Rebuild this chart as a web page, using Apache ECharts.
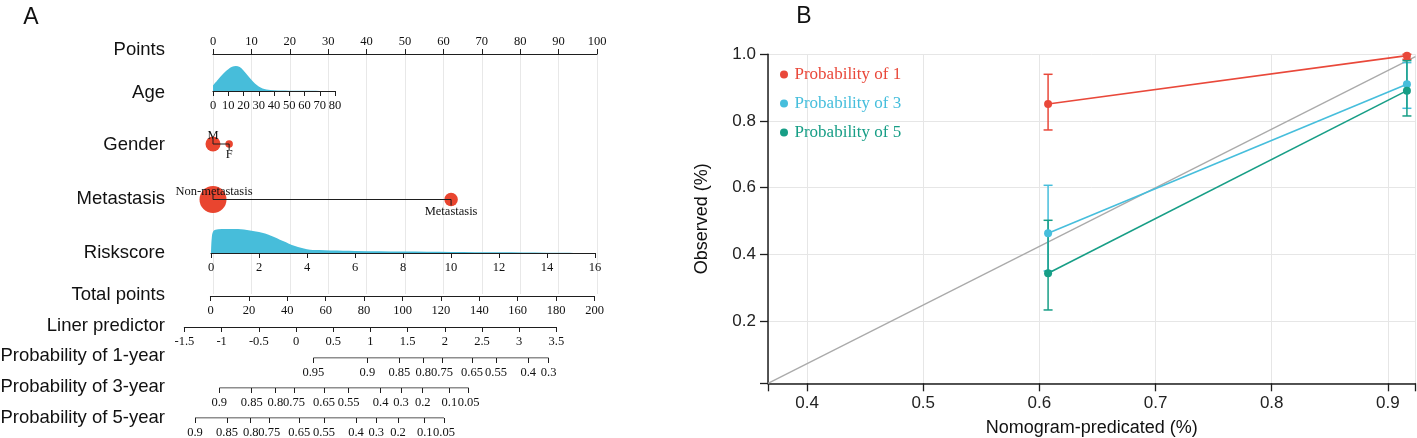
<!DOCTYPE html>
<html>
<head>
<meta charset="utf-8">
<script src="https://cdn.jsdelivr.net/npm/echarts@6/dist/echarts.min.js"></script>
<style>
  html, body { margin: 0; padding: 0; background: #fff; }
  #chart { width: 1417px; height: 438px; }
</style>
</head>
<body>
<div id="chart"></div>
<script>
// ---------- panel A: nomogram ----------
const rowLabels = ['Points', 'Age', 'Gender', 'Metastasis', 'Riskscore', 'Total points',
  'Liner predictor', 'Probability of 1-year', 'Probability of 3-year', 'Probability of 5-year'];

// age density (relative height)
const ageValues  = [0, 2.5, 5, 7.5, 10, 12.5, 15, 17.5, 20, 22.5, 25, 27.5, 30, 32.5, 35, 40, 50, 60, 70, 80];
const ageDensity = [0.22, 0.40, 0.58, 0.74, 0.87, 0.97, 1.0, 0.96, 0.82, 0.64, 0.46, 0.30, 0.18, 0.10, 0.06, 0.03, 0.014, 0.007, 0.003, 0];

const genderLevels = ['M', 'F'];
const genderPoints = [0, 4.2];
const metLevels = ['Non-metastasis', 'Metastasis'];
const metPoints = [0, 62];

const riskValues  = [0, 0.03, 0.1, 0.3, 0.6, 1.0, 1.5, 2, 2.5, 3, 3.5, 4, 4.5, 5, 6, 8, 10, 12, 14, 16];
const riskDensity = [0, 0.6, 0.92, 0.99, 1.0, 1.0, 0.96, 0.87, 0.72, 0.5, 0.29, 0.16, 0.12, 0.1, 0.085, 0.06, 0.045, 0.03, 0.015, 0.005];

// survival probability scales, placed in linear-predictor units
const prob1Labels = ['0.95', '0.9', '0.85', '0.8', '0.75', '0.65', '0.55', '0.4', '0.3'];
const prob1At     = [0.233, 0.959, 1.389, 1.711, 1.962, 2.366, 2.688, 3.122, 3.396];
const prob3Labels = ['0.9', '0.85', '0.8', '0.75', '0.65', '0.55', '0.4', '0.3', '0.2', '0.1', '0.05'];
const prob3At     = [-1.031, -0.595, -0.278, -0.027, 0.376, 0.708, 1.138, 1.411, 1.703, 2.061, 2.321];
const prob5Labels = ['0.9', '0.85', '0.8', '0.75', '0.65', '0.55', '0.4', '0.3', '0.2', '0.1', '0.05'];
const prob5At     = [-1.358, -0.927, -0.609, -0.359, 0.044, 0.376, 0.806, 1.079, 1.371, 1.730, 1.989];

// ---------- panel B: calibration ----------
const predicted = [0.6075, 0.9164];
const obs1 = [0.851, 0.996], lo1 = [0.773, 0.985], hi1 = [0.94, 1.0];
const obs3 = [0.463, 0.91],  lo3 = [0.35, 0.838],  hi3 = [0.607, 0.975];
const obs5 = [0.343, 0.891], lo5 = [0.233, 0.815], hi5 = [0.502, 0.981];
const diagX = [0.3664, 0.9237];
const diagY = [0.013, 0.993];
const xTicks = [0.4, 0.5, 0.6, 0.7, 0.8, 0.9];
const yTicks = [0.2, 0.4, 0.6, 0.8, 1.0];
const xRange = [0.3664, 0.9237];
const yRange = [0.013, 1.0];

const serif = 'Liberation Serif';
const sans = 'Liberation Sans';
const ink = '#1e1e1e';
const cyan = '#47BDDA';
const dotRed = '#E9452F';
const red = '#E9483A', blue = '#46BEDC', teal = '#179E86';

const rowY = [50, 93, 145, 199, 253, 295, 326, 356, 387, 418];

// grids: 0 points, 1 age, 2 gender, 3 metastasis, 4 riskscore, 5 total, 6 lp, 7-9 prob, 10 calibration
const grid = [
  {left: 213, width: 384, top: 54, height: 240},
  {left: 213, width: 122, top: 66, height: 25},
  {left: 213, width: 384, top: 134, height: 20},
  {left: 213, width: 384, top: 189.5, height: 20},
  {left: 211, width: 384, top: 229, height: 24},
  {left: 210.5, width: 384, top: 286, height: 10},
  {left: 184.4, width: 372, top: 317, height: 10},
  {left: 184.4, width: 372, top: 348, height: 10},
  {left: 184.4, width: 372, top: 378, height: 10},
  {left: 184.4, width: 372, top: 408, height: 10},
  {left: 768, width: 647.4, top: 54.3, height: 329}
].map(g => Object.assign({outerBoundsMode: 'none', containLabel: false}, g));

function scaleAxis(gridIndex, min, max, interval, extra) {
  return Object.assign({
    gridIndex, type: 'value', min, max, interval,
    axisLine: {show: true, onZero: false, lineStyle: {color: ink, width: 1.2}},
    axisTick: {show: true, length: 5, lineStyle: {color: ink, width: 1}},
    axisLabel: {show: true, fontFamily: serif, fontSize: 12.5, color: '#111', margin: 8},
    splitLine: {show: false}
  }, extra || {});
}
function probAxis(gridIndex, at, labels) {
  return scaleAxis(gridIndex, -1.5, 3.5, null, {
    axisLine: {show: false},
    axisTick: {show: true, length: 5, customValues: at, lineStyle: {color: ink, width: 1}},
    axisLabel: {show: true, customValues: at, fontFamily: serif, fontSize: 12.5, color: '#111', margin: 8,
      formatter: v => labels[at.indexOf(v)]}
  });
}
const hiddenX = (gridIndex, min, max) => ({gridIndex, type: 'value', min, max, show: false});
const hiddenY = (gridIndex, min, max) => ({gridIndex, type: 'value', min, max, show: false});

const xAxis = [
  scaleAxis(0, 0, 100, 10, {position: 'top', axisLabel: {fontFamily: serif, fontSize: 12.5, color: '#111', margin: 6},
    splitLine: {show: true, lineStyle: {color: '#e8e8e8', width: 1}}}),
  scaleAxis(1, 0, 80, 10),
  hiddenX(2, 0, 100),
  hiddenX(3, 0, 100),
  scaleAxis(4, 0, 16, 2),
  scaleAxis(5, 0, 200, 20),
  scaleAxis(6, -1.5, 3.5, 0.5),
  probAxis(7, prob1At, prob1Labels),
  probAxis(8, prob3At, prob3Labels),
  probAxis(9, prob5At, prob5Labels),
  {
    gridIndex: 10, type: 'value', min: xRange[0], max: xRange[1],
    axisLine: {show: true, onZero: false, lineStyle: {color: ink, width: 1.5}},
    axisTick: {show: true, length: 8, customValues: [xRange[0]].concat(xTicks, [xRange[1]]), lineStyle: {color: ink, width: 1.3}},
    axisLabel: {customValues: xTicks, formatter: v => v.toFixed(1), fontFamily: sans, fontSize: 17, color: '#222', margin: 12},
    splitLine: {show: true, lineStyle: {color: '#e6e6e6', width: 1}},
    name: 'Nomogram-predicated (%)', nameLocation: 'middle', nameGap: 36,
    nameTextStyle: {fontFamily: sans, fontSize: 18, color: '#111'}
  }
];
const yAxis = [
  hiddenY(0, 0, 1), hiddenY(1, 0, 1), hiddenY(2, -1, 1), hiddenY(3, -1, 1), hiddenY(4, 0, 1),
  hiddenY(5, 0, 1), hiddenY(6, 0, 1), hiddenY(7, 0, 1), hiddenY(8, 0, 1), hiddenY(9, 0, 1),
  {
    gridIndex: 10, type: 'value', min: yRange[0], max: yRange[1],
    axisLine: {show: true, onZero: false, lineStyle: {color: ink, width: 1.5}},
    axisTick: {show: true, length: 8, customValues: [yRange[0]].concat(yTicks), lineStyle: {color: ink, width: 1.3}},
    axisLabel: {customValues: yTicks, formatter: v => v.toFixed(1), fontFamily: sans, fontSize: 17, color: '#222', margin: 12},
    splitLine: {show: true, lineStyle: {color: '#e6e6e6', width: 1}},
    name: 'Observed (%)', nameLocation: 'middle', nameGap: 57,
    nameTextStyle: {fontFamily: sans, fontSize: 18, color: '#111'}
  }
];

function density(i, xs, ys) {
  return {
    type: 'line', xAxisIndex: i, yAxisIndex: i, smooth: 0.35, symbol: 'none', silent: true,
    data: xs.map((x, k) => [x, ys[k]]),
    lineStyle: {width: 0}, areaStyle: {color: cyan, opacity: 1}, z: 3
  };
}
function levelRow(i, pts, names, sizes, labelOffsets) {
  return [
    {
      type: 'scatter', xAxisIndex: i, yAxisIndex: i, silent: true,
      data: pts.map((p, k) => ({value: [p, 0], name: names[k],
        label: {show: true, position: 'inside', offset: labelOffsets[k], formatter: names[k],
          fontFamily: serif, fontSize: 12.5, color: '#111'}})),
      symbol: 'circle', symbolSize: (v, p) => sizes[p.dataIndex],
      itemStyle: {color: dotRed, opacity: 1}, z: 3
    },
    {
      type: 'line', xAxisIndex: i, yAxisIndex: i, silent: true,
      data: pts.map((p, k) => ({value: [p, 0], symbolOffset: [0, k === 0 ? -3 : 3]})),
      symbol: 'rect', symbolSize: [1, 6], itemStyle: {color: ink},
      lineStyle: {color: ink, width: 1.2}, z: 4
    }
  ];
}
function axisRule(i, at) {
  return {
    type: 'line', xAxisIndex: i, yAxisIndex: i, silent: true, symbol: 'none',
    data: [[at[0], 0], [at[at.length - 1], 0]],
    lineStyle: {color: ink, width: 1.2}
  };
}
function errorBars(name, color, lo, hi) {
  return {
    type: 'custom', name, xAxisIndex: 10, yAxisIndex: 10, silent: true, z: 3,
    data: predicted.map((x, k) => [x, lo[k], hi[k]]),
    renderItem(params, api) {
      const a = api.coord([api.value(0), api.value(2)]);
      const b = api.coord([api.value(0), api.value(1)]);
      const w = 4.5;
      const style = {stroke: color, lineWidth: 1.5, fill: null};
      return {type: 'group', children: [
        {type: 'line', shape: {x1: a[0], y1: a[1], x2: b[0], y2: b[1]}, style},
        {type: 'line', shape: {x1: a[0] - w, y1: a[1], x2: a[0] + w, y2: a[1]}, style},
        {type: 'line', shape: {x1: b[0] - w, y1: b[1], x2: b[0] + w, y2: b[1]}, style}
      ]};
    }
  };
}
function calLine(name, color, obs) {
  return {
    type: 'line', name, xAxisIndex: 10, yAxisIndex: 10, z: 4,
    data: predicted.map((x, k) => [x, obs[k]]),
    symbol: 'circle', symbolSize: 8, clip: false,
    lineStyle: {color, width: 1.6}, itemStyle: {color}
  };
}

const series = [
  density(1, ageValues, ageDensity),
  ...levelRow(2, genderPoints, genderLevels, [15, 7.5], [[0, -8], [0, 11]]),
  ...levelRow(3, metPoints, metLevels, [27, 13.5], [[1, -8], [0, 12]]),
  density(4, riskValues, riskDensity),
  axisRule(7, prob1At), axisRule(8, prob3At), axisRule(9, prob5At),
  {
    type: 'line', xAxisIndex: 10, yAxisIndex: 10, silent: true, symbol: 'none', z: 2,
    data: diagX.map((x, k) => [x, diagY[k]]), lineStyle: {color: '#aaaaaa', width: 1.3}
  },
  errorBars('err1', red, lo1, hi1), calLine('Probability of 1', red, obs1),
  errorBars('err3', blue, lo3, hi3), calLine('Probability of 3', blue, obs3),
  errorBars('err5', teal, lo5, hi5), calLine('Probability of 5', teal, obs5)
];

const graphic = rowLabels.map((t, k) => ({
  type: 'text', x: 165, y: rowY[k], silent: true,
  style: {text: t, fontFamily: sans, fontSize: 18.5, fill: '#111', align: 'right', verticalAlign: 'middle'}
})).concat([
  {type: 'text', x: 31, y: 18, style: {text: 'A', fontFamily: sans, fontSize: 23, fill: '#111', align: 'center', verticalAlign: 'middle'}},
  {type: 'text', x: 804, y: 17, style: {text: 'B', fontFamily: sans, fontSize: 23, fill: '#111', align: 'center', verticalAlign: 'middle'}}
]);

const chart = echarts.init(document.getElementById('chart'), null, {renderer: 'canvas'});
chart.setOption({
  backgroundColor: '#fff',
  animation: false,
  grid, xAxis, yAxis, series, graphic,
  legend: {
    left: 775, top: 61, orient: 'vertical', icon: 'circle', itemWidth: 11, itemHeight: 8, itemGap: 12,
    selectedMode: false,
    textStyle: {fontFamily: serif, fontSize: 17, lineHeight: 17},
    data: [
      {name: 'Probability of 1', textStyle: {color: red}},
      {name: 'Probability of 3', textStyle: {color: blue}},
      {name: 'Probability of 5', textStyle: {color: teal}}
    ]
  }
});
</script>
</body>
</html>
